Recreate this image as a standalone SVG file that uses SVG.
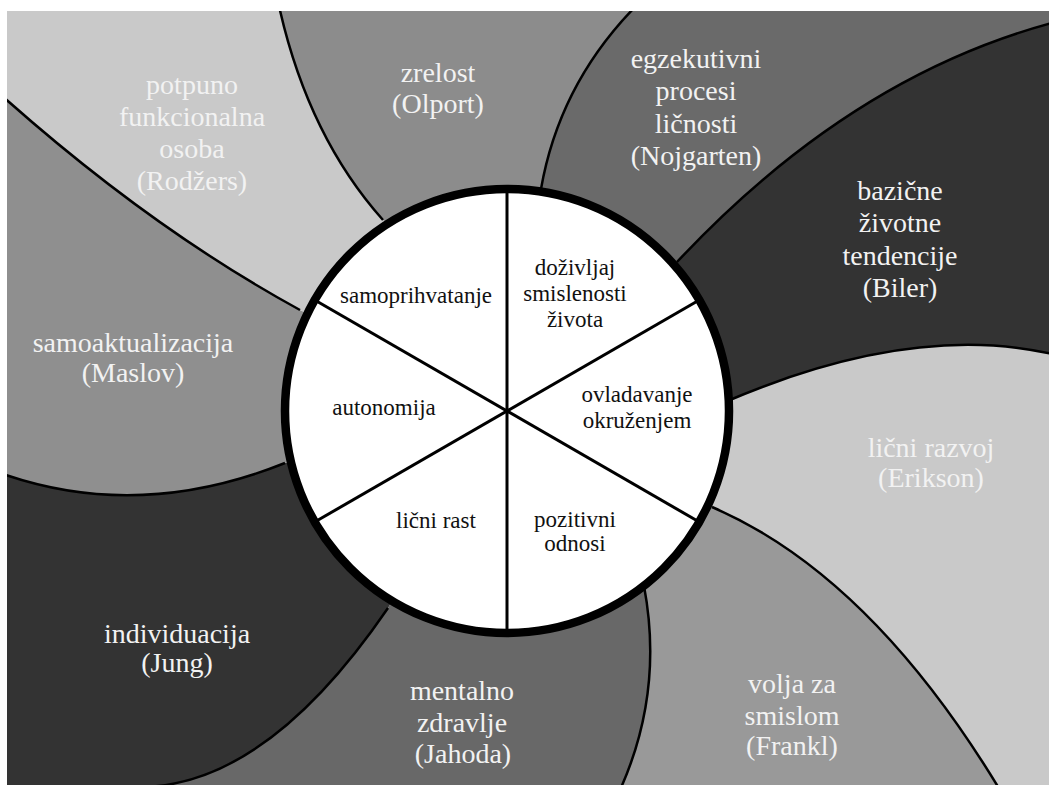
<svg xmlns="http://www.w3.org/2000/svg" width="1049" height="785" viewBox="0 0 1049 785">
  <defs>
    <clipPath id="frame">
      <rect x="7" y="11" width="1042" height="774"/>
    </clipPath>
    <style>
      .outer { font-size: 28px; fill: #f2f2f2; text-anchor: middle; }
      .inner { font-size: 23px; fill: #111111; text-anchor: middle; }
      .divider { fill: none; stroke: #000000; stroke-width: 2.5; }
      .spoke { stroke: #000000; stroke-width: 3; }
    </style>
  </defs>

  <rect x="0" y="0" width="1049" height="785" fill="#ffffff"/>

  <!-- outer swirl sectors, clipped to the picture frame -->
  <g clip-path="url(#frame)" font-family="'Liberation Serif', 'DejaVu Serif', serif">
    <g id="olport">
      <path fill="#8c8c8c" d="M507,411 L383,220 Q308,136 279,6 L642,0 Q560,80 541,189 Z"/>
      <text class="outer" x="438" y="82">zrelost</text>
      <text class="outer" x="438" y="113">(Olport)</text>
    </g>
    <g id="nojgarten">
      <path fill="#6a6a6a" d="M507,411 L541,189 Q560,80 642,0 L1060,-10 L1052,23 Q849.5,77.5 677,262 Z"/>
      <text class="outer" x="696" y="68">egzekutivni</text>
      <text class="outer" x="696" y="100">procesi</text>
      <text class="outer" x="696" y="133">ličnosti</text>
      <text class="outer" x="696" y="165">(Nojgarten)</text>
    </g>
    <g id="biler">
      <path fill="#333333" d="M507,411 L677,262 Q849.5,77.5 1052,23 L1052,354 Q911.5,322 725,402 Z"/>
      <text class="outer" x="900" y="200">bazične</text>
      <text class="outer" x="900" y="232">životne</text>
      <text class="outer" x="900" y="265">tendencije</text>
      <text class="outer" x="900" y="297">(Biler)</text>
    </g>
    <g id="erikson">
      <path fill="#c9c9c9" d="M507,411 L725,402 Q911.5,322 1052,354 L1060,800 L1000,790 Q870,575 712,507 Z"/>
      <text class="outer" x="931" y="457">lični razvoj</text>
      <text class="outer" x="931" y="487">(Erikson)</text>
    </g>
    <g id="frankl">
      <path fill="#999999" d="M507,411 L712,507 Q870,575 1000,790 L620,790 Q664,692 644,586 Z"/>
      <text class="outer" x="792" y="693">volja za</text>
      <text class="outer" x="792" y="725">smislom</text>
      <text class="outer" x="792" y="755">(Frankl)</text>
    </g>
    <g id="jahoda">
      <path fill="#686868" d="M507,411 L644,586 Q664,692 620,790 L140,787 Q266,786.5 388,608 Z"/>
      <text class="outer" x="462" y="700">mentalno</text>
      <text class="outer" x="462" y="732">zdravlje</text>
      <text class="outer" x="463" y="763">(Jahoda)</text>
    </g>
    <g id="jung">
      <path fill="#333333" d="M507,411 L388,608 Q266,786.5 140,787 L-10,800 L0,473 Q137.5,522 285,463 Z"/>
      <text class="outer" x="177" y="643">individuacija</text>
      <text class="outer" x="177" y="672">(Jung)</text>
    </g>
    <g id="maslov">
      <path fill="#8f8f8f" d="M507,411 L285,463 Q137.5,522 0,473 L0,94 Q150,228 300,310 Z"/>
      <text class="outer" x="133" y="352">samoaktualizacija</text>
      <text class="outer" x="133" y="382">(Maslov)</text>
    </g>
    <g id="rodzers">
      <path fill="#c9c9c9" d="M507,411 L300,310 Q150,228 0,94 L-10,-10 L279,6 Q308,136 383,220 Z"/>
      <text class="outer" x="192" y="94">potpuno</text>
      <text class="outer" x="192" y="126">funkcionalna</text>
      <text class="outer" x="192" y="158">osoba</text>
      <text class="outer" x="192" y="190">(Rodžers)</text>
    </g>

    <!-- sector dividers -->
    <g id="dividers">
      <path class="divider" d="M383,220 Q308,136 279,6"/>
      <path class="divider" d="M541,189 Q560,80 642,0"/>
      <path class="divider" d="M677,262 Q849.5,77.5 1052,23"/>
      <path class="divider" d="M725,402 Q911.5,322 1052,354"/>
      <path class="divider" d="M712,507 Q870,575 1000,790"/>
      <path class="divider" d="M644,586 Q664,692 620,790"/>
      <path class="divider" d="M388,608 Q266,786.5 140,787"/>
      <path class="divider" d="M285,463 Q137.5,522 0,473"/>
      <path class="divider" d="M300,310 Q150,228 0,94"/>
    </g>
  </g>

  <!-- central wheel of six dimensions -->
  <g id="wheel">
    <circle cx="507" cy="411" r="222" fill="#ffffff"/>
    <line class="spoke" x1="507" y1="189" x2="507" y2="633"/>
    <line class="spoke" x1="314.7" y1="300" x2="699.3" y2="522"/>
    <line class="spoke" x1="314.7" y1="522" x2="699.3" y2="300"/>
    <circle cx="507" cy="411" r="222" fill="none" stroke="#000000" stroke-width="8.5"/>
  </g>

  <g font-family="'Liberation Serif', 'DejaVu Serif', serif">
    <g id="samoprihvatanje">
      <text class="inner" x="416" y="303">samoprihvatanje</text>
    </g>
    <g id="smislenost">
      <text class="inner" x="575" y="275">doživljaj</text>
      <text class="inner" x="575" y="301">smislenosti</text>
      <text class="inner" x="575" y="327">života</text>
    </g>
    <g id="ovladavanje">
      <text class="inner" x="637" y="402">ovladavanje</text>
      <text class="inner" x="637" y="428">okruženjem</text>
    </g>
    <g id="autonomija">
      <text class="inner" x="384" y="415">autonomija</text>
    </g>
    <g id="licni-rast">
      <text class="inner" x="436" y="528">lični rast</text>
    </g>
    <g id="pozitivni-odnosi">
      <text class="inner" x="575" y="527">pozitivni</text>
      <text class="inner" x="575" y="551">odnosi</text>
    </g>
  </g>
</svg>
